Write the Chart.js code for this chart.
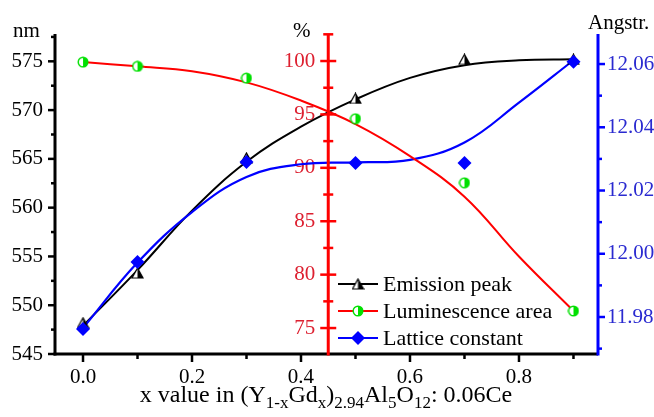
<!DOCTYPE html>
<html>
<head>
<meta charset="utf-8">
<script src="https://cdn.jsdelivr.net/npm/chart.js@4"></script>
<style>
    body { margin: 0; background: #fff; }
    #wrap { position: relative; width: 654px; height: 417px; font-family: 'Liberation Serif', 'Times New Roman', serif; }
    #wrap canvas { position: absolute; left: 0; top: 0; }
    .lbl { position: absolute; font-size: 21px; line-height: 21px; white-space: nowrap; color: #000; }
    .titulo { font-size: 24px; line-height: 24px; }
    .titulo sub { font-size: 17px; vertical-align: -6px; line-height: 0; }
</style>
</head>
<body>
<div id="wrap">
    <canvas id="grafico" width="654" height="417"></canvas>
    <div class="lbl" style="left:13px; top:20px;">nm</div>
    <div class="lbl" style="left:293px; top:20px;">%</div>
    <div class="lbl" style="left:588px; top:12px;">Angstr.</div>
    <div class="lbl titulo" style="left:0; width:652px; top:382px; text-align:center;">x value in (Y<sub>1-x</sub>Gd<sub>x</sub>)<sub>2.94</sub>Al<sub>5</sub>O<sub>12</sub>: 0.06Ce</div>
</div>
<script>
// medidas
const composicao = [0, 0.1, 0.3, 0.5, 0.7, 0.9];
const picoEmissao = [548.2, 553.3, 565.1, 571.2, 575.2, 575.2];
const areaLuminescencia = [99.9, 99.5, 98.4, 94.6, 88.6, 76.6];
const constanteRede = [11.9762, 11.9974, 12.029, 12.0287, 12.0287, 12.0607];

// curvas ajustadas
const composicaoAjuste = [0, 0.1, 0.2, 0.3, 0.4, 0.5, 0.6, 0.7, 0.8, 0.9];
const ajusteEmissao = [547.9, 553.6, 559.7, 564.7, 568.3, 571.1, 573.3, 574.6, 575.1, 575.2];
const ajusteLuminescencia = [99.9, 99.5, 99.05, 98.0, 96.3, 94.1, 91.1, 87.3, 81.7, 76.6];
const ajusteRede = [11.9765, 11.9972, 12.0132, 12.0243, 12.0283, 12.0289, 12.0297, 12.0352, 12.0478, 12.0612];

const FONTE = "'Liberation Serif', 'Times New Roman', serif";
const VERMELHO = "#ff0000";
const AZUL = "#0000ff";
const VERDE = "#00e000";
const X_EIXO_PCT = 0.45;

const pontos = (xs, ys) => xs.map((x, i) => ({ x: x, y: ys[i] }));

function marcadorTriangulo() {
    const c = document.createElement("canvas");
    c.width = 13; c.height = 12;
    const g = c.getContext("2d");
    const caminho = () => { g.beginPath(); g.moveTo(6.5, 1); g.lineTo(12, 11); g.lineTo(1, 11); g.closePath(); };
    caminho(); g.fillStyle = "#fff"; g.fill();
    g.save(); g.beginPath(); g.rect(6.5, 0, 7, 12); g.clip();
    caminho(); g.fillStyle = "#000"; g.fill(); g.restore();
    caminho(); g.lineWidth = 1.2; g.strokeStyle = "#000"; g.stroke();
    return c;
}

function marcadorCirculo() {
    const c = document.createElement("canvas");
    c.width = 12; c.height = 12;
    const g = c.getContext("2d");
    g.beginPath(); g.arc(6, 6, 4.8, 0, Math.PI * 2); g.fillStyle = "#fff"; g.fill();
    g.beginPath(); g.arc(6, 6, 4.8, -Math.PI / 2, Math.PI / 2); g.closePath(); g.fillStyle = VERDE; g.fill();
    g.beginPath(); g.arc(6, 6, 4.8, 0, Math.PI * 2); g.lineWidth = 1.4; g.strokeStyle = VERDE; g.stroke();
    return c;
}

const triangulo = marcadorTriangulo();
const circulo = marcadorCirculo();

// eixos desenhados a mao: linha grossa, marcas maiores nos rotulos e menores entre eles
const eixosPlugin = {
    id: "eixos",
    afterDatasetsDraw(chart) {
        const ctx = chart.ctx;
        const area = chart.chartArea;
        const s = chart.scales;

        function eixoY(scale, x, cor, lado) {
            ctx.save();
            ctx.strokeStyle = cor;
            ctx.lineWidth = 3;
            ctx.beginPath(); ctx.moveTo(x, area.top); ctx.lineTo(x, area.bottom + 1.5); ctx.stroke();
            ctx.lineWidth = 2.5;
            scale.ticks.forEach((t) => {
                const y = scale.getPixelForValue(t.value);
                const comp = t.label !== "" ? 7 : 4;
                ctx.beginPath();
                if (lado === 0) { ctx.moveTo(x - comp - 1, y); ctx.lineTo(x + comp + 1, y); }
                else { ctx.moveTo(x, y); ctx.lineTo(x + lado * comp, y); }
                ctx.stroke();
            });
            ctx.restore();
        }

        ctx.save();
        ctx.strokeStyle = "#000";
        ctx.lineWidth = 3;
        ctx.beginPath(); ctx.moveTo(area.left - 1.5, area.bottom); ctx.lineTo(area.right, area.bottom); ctx.stroke();
        ctx.lineWidth = 2.5;
        s.x.ticks.forEach((t) => {
            const x = s.x.getPixelForValue(t.value);
            const comp = t.label !== "" ? 8 : 5;
            ctx.beginPath(); ctx.moveTo(x, area.bottom); ctx.lineTo(x, area.bottom + comp); ctx.stroke();
        });
        ctx.restore();

        eixoY(s.yNm, area.left, "#000", -1);
        eixoY(s.yAng, area.right, AZUL, 1);
        eixoY(s.yPct, s.x.getPixelForValue(X_EIXO_PCT), VERMELHO, 0);

        // legenda
        const itens = [
            { texto: "Emission peak", cor: "#000", marca: triangulo },
            { texto: "Luminescence area", cor: VERMELHO, marca: circulo },
            { texto: "Lattice constant", cor: AZUL, marca: null },
        ];
        ctx.save();
        ctx.font = "22px " + FONTE;
        ctx.textBaseline = "middle";
        ctx.fillStyle = "#000";
        itens.forEach((item, i) => {
            const y = 284 + i * 27;
            ctx.strokeStyle = item.cor;
            ctx.lineWidth = 2;
            ctx.beginPath(); ctx.moveTo(338, y); ctx.lineTo(378, y); ctx.stroke();
            if (item.marca) {
                ctx.drawImage(item.marca, 358 - item.marca.width / 2, y - item.marca.height / 2);
            } else {
                ctx.fillStyle = AZUL;
                ctx.beginPath(); ctx.moveTo(358, y - 7); ctx.lineTo(365, y); ctx.lineTo(358, y + 7); ctx.lineTo(351, y); ctx.closePath(); ctx.fill();
                ctx.fillStyle = "#000";
            }
            ctx.fillText(item.texto, 383, y + 1);
        });
        ctx.restore();
    },
};

const rotuloY = (passoMaior) => (v) => {
    const r = Math.round(v / passoMaior * 2);
    return r % 2 === 0 ? String(Math.round(v * 100) / 100) : "";
};

const curva = { showLine: true, pointRadius: 0, tension: 0.4 };

new Chart(document.getElementById("grafico").getContext("2d"), {
    type: "scatter",
    data: {
        datasets: [
            { ...curva, data: pontos(composicaoAjuste, ajusteEmissao), yAxisID: "yNm", borderColor: "#000", borderWidth: 2, order: 6 },
            { ...curva, data: pontos(composicaoAjuste, ajusteLuminescencia), yAxisID: "yPct", borderColor: VERMELHO, borderWidth: 2, order: 4 },
            { ...curva, data: pontos(composicaoAjuste, ajusteRede), yAxisID: "yAng", borderColor: AZUL, borderWidth: 2.2, order: 5 },
            { data: pontos(composicao, picoEmissao), yAxisID: "yNm", pointStyle: triangulo, order: 3 },
            { data: pontos(composicao, areaLuminescencia), yAxisID: "yPct", pointStyle: circulo, order: 2 },
            { data: pontos(composicao, constanteRede), yAxisID: "yAng", pointStyle: "rectRot", pointRadius: 7, backgroundColor: AZUL, borderColor: AZUL, borderWidth: 0, order: 1 },
        ],
    },
    options: {
        responsive: false,
        animation: false,
        events: [],
        layout: { padding: { top: 34, left: 0, right: 0, bottom: 0 } },
        plugins: { legend: { display: false }, tooltip: { enabled: false } },
        scales: {
            x: {
                type: "linear",
                min: -0.0514,
                max: 0.945,
                grid: { display: false, drawTicks: false },
                border: { display: false },
                ticks: {
                    stepSize: 0.1,
                    includeBounds: false,
                    autoSkip: false,
                    maxRotation: 0,
                    padding: 11,
                    color: "#000",
                    font: { family: FONTE, size: 21 },
                    callback: (v) => (Math.round(v * 10) % 2 === 0 ? v.toFixed(1) : ""),
                },
                afterFit: (scale) => { scale.height = 63; },
            },
            yNm: {
                position: "left",
                min: 545,
                max: 577.8,
                grid: { display: false, drawTicks: false },
                border: { display: false },
                ticks: {
                    stepSize: 2.5,
                    includeBounds: false,
                    autoSkip: false,
                    padding: 12,
                    color: "#000",
                    font: { family: FONTE, size: 21 },
                    callback: rotuloY(5),
                },
                afterFit: (scale) => { scale.width = 55; },
            },
            yPct: {
                // os rotulos ficam alinhados a direita neste ponto, um pouco antes do eixo vermelho
                position: { x: X_EIXO_PCT - 0.024 },
                min: 72.57,
                max: 102.53,
                grid: { display: false, drawTicks: false },
                border: { display: false },
                ticks: {
                    stepSize: 2.5,
                    includeBounds: false,
                    autoSkip: false,
                    color: "#dd2030",
                    font: { family: FONTE, size: 21 },
                    callback: rotuloY(5),
                },
            },
            yAng: {
                position: "right",
                min: 11.9683,
                max: 12.0695,
                grid: { display: false, drawTicks: false },
                border: { display: false },
                ticks: {
                    stepSize: 0.01,
                    includeBounds: false,
                    autoSkip: false,
                    padding: 9,
                    color: "#2a2ad0",
                    font: { family: FONTE, size: 21 },
                    callback: (v) => (Math.round(v * 100) % 2 === 0 ? v.toFixed(2) : ""),
                },
                afterFit: (scale) => { scale.width = 56; },
            },
        },
    },
    plugins: [eixosPlugin],
});
</script>
</body>
</html>
